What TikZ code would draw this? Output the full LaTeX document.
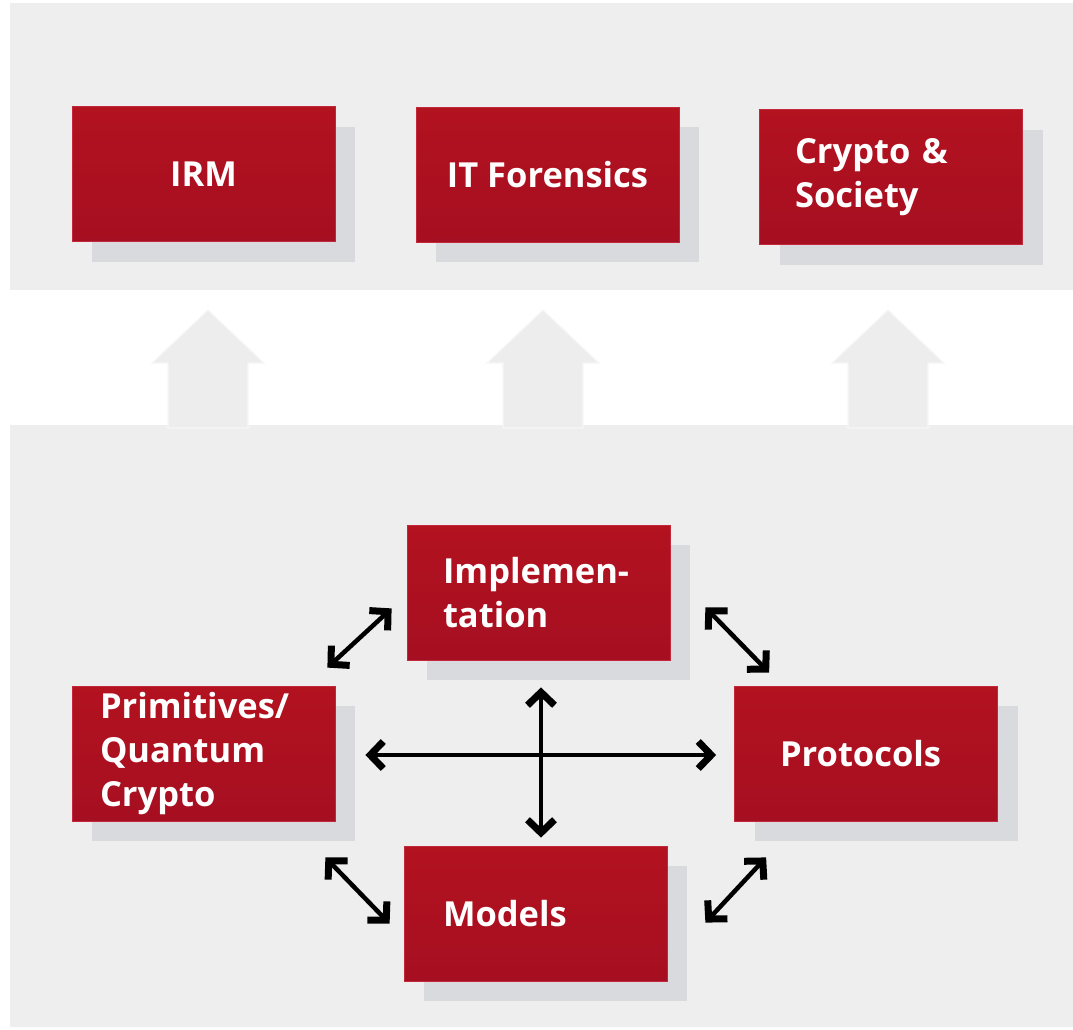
\documentclass[tikz,border=0pt]{standalone}
\usepackage{fontspec}
\setmainfont{Open Sans}
\usetikzlibrary{arrows.meta,shadows,calc}
\definecolor{panelgrey}{HTML}{EEEEEE}
\definecolor{boxred}{HTML}{A60F21}
\definecolor{boxredlight}{HTML}{B3121F}
\definecolor{boxrim}{HTML}{C3283A}
\definecolor{shadowgrey}{HTML}{D8DADD}
\definecolor{liftgrey}{HTML}{EDEDED}
\definecolor{liftrim}{HTML}{F7F7F7}
\begin{document}
\begin{tikzpicture}[x=1pt,y=-1pt,
  topicbox/.style={rectangle, top color=boxredlight, bottom color=boxred,
    draw=boxrim, line width=0.8pt,
    minimum width=263pt, minimum height=135pt, inner sep=0pt,
    text=white, font=\fontsize{34.5}{44}\selectfont\bfseries,
    drop shadow={shadow xshift=20pt, shadow yshift=-20pt, fill=shadowgrey, opacity=1}},
  lefttext/.style={align=left, text width=#1},
  liftarrow/.style={fill=liftgrey, draw=liftrim, line width=1.2pt},
  barb/.tip={Straight Barb[length=13pt,width=27pt,line width=7pt]},
  link/.style={line width=4.5pt, barb-barb}
]
\useasboundingbox (0,0) rectangle (1073,1029);
\fill[white] (0,0) rectangle (1073,1029);

% background panels
\fill[panelgrey] (10,3) rectangle (1073,290);
\fill[panelgrey] (10,425) rectangle (1073,1027);

% lift arrows between the two layers
\foreach \cx in {208, 543, 888} {
  \path[liftarrow] (\cx,310) -- (\cx+56,363) -- (\cx+40,363) -- (\cx+40,428)
     -- (\cx-40,428) -- (\cx-40,363) -- (\cx-56,363) -- cycle;
}

% application layer
\node[topicbox, align=center] (irm) at (203.5,174) {IRM};
\node[topicbox, align=center] (itf) at (547.5,174.5) {IT Forensics};
\node[topicbox, lefttext=192pt] (cs) at (891,177) {Crypto \&\\Society};

% foundation layer
\node[topicbox, lefttext=191pt] (impl) at (538.5,592.5) {Implemen-\\tation};
\node[topicbox, lefttext=207pt] (prim) at (203.5,753.5) {Primitives/\\Quantum\\Crypto};
\node[topicbox, lefttext=172pt] (prot) at (866,753.5) {Protocols};
\node[topicbox, lefttext=185pt] (mod) at (535.5,913.5) {Models};

% relations
\draw[link] ($(prim.east)+(30,1.5)$) -- ($(prot.west)+(-18,1.5)$);
\draw[link] ($(impl.south)+(2.5,27)$) -- ($(mod.north)+(5.5,-8)$);
\draw[link] ($(prim.north east)+(-8,-18)$) -- ($(impl.south west)+(-15,-52)$);
\draw[link] ($(impl.south east)+(35,-53)$) -- ($(prot.north west)+(35,-13)$);
\draw[link] ($(prim.south east)+(-10,36)$) -- ($(mod.north west)+(-14,78)$);
\draw[link] ($(prot.south west)+(32,36)$) -- ($(mod.north east)+(38,77)$);
\end{tikzpicture}
\end{document}
